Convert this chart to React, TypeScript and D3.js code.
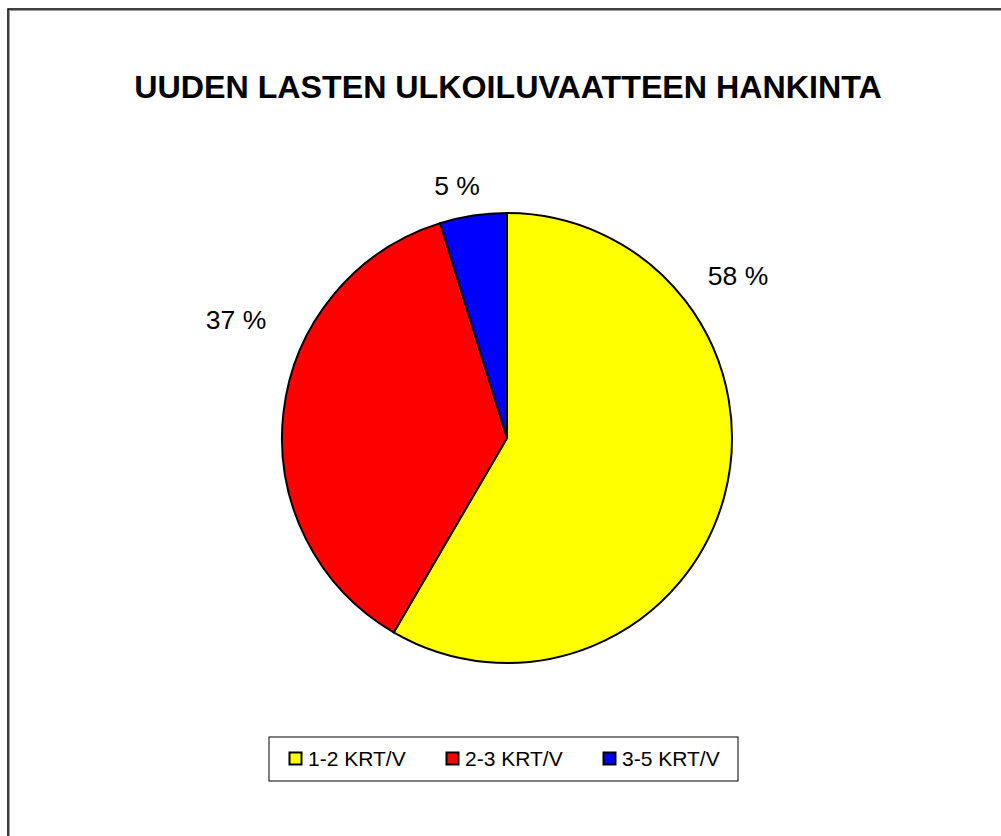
import React from "react";
import * as d3 from "d3";

const categories = ["1-2 KRT/V", "2-3 KRT/V", "3-5 KRT/V"];
const values = [58.4, 36.8, 4.8];
const colors = ["#FFFF00", "#FF0000", "#0000FF"];
const title = "UUDEN LASTEN ULKOILUVAATTEEN HANKINTA";

// label anchor offsets relative to pie centre (layout only)
const labelOffsets: [number, number][] = [
  [231, -153],
  [-271, -109],
  [-50, -243],
];

const W = 1001;
const H = 836;
const cx = 507;
const cy = 438;
const R = 225;

export default function App() {
  const pie = d3.pie<number>().sort(null).value((d) => d)(values);
  const arc = d3.arc<d3.PieArcDatum<number>>().innerRadius(0).outerRadius(R);
  const font = "Liberation Sans, Arial, sans-serif";

  const legendX = 269;
  const legendY = 737;
  const legendW = 469;
  const legendH = 44;
  const itemX = [289, 446, 603];

  return (
    <div style={{ position: "absolute", left: 0, top: 0 }}>
      <svg width={W} height={H} style={{ display: "block" }}>
        <rect x={0} y={0} width={W} height={H} fill="#fff" />
        {/* frame */}
        <rect x={9.5} y={10.5} width={W + 10} height={H + 10} fill="none" stroke="#999" strokeWidth={1} />
        <rect x={8} y={9} width={W + 10} height={H + 10} fill="none" stroke="#000" strokeWidth={1.5} />
        <text
          x={508}
          y={98}
          textAnchor="middle"
          fontFamily={font}
          fontWeight="bold"
          fontSize={32.2}
          fill="#000"
        >
          {title}
        </text>
        <g transform={`translate(${cx},${cy})`}>
          {pie.map((d, i) => (
            <path
              key={i}
              d={arc(d) || ""}
              fill={colors[i]}
              stroke="#000"
              strokeWidth={2}
              strokeLinejoin="round"
            />
          ))}
          {pie.map((d, i) => (
            <text
              key={"l" + i}
              x={labelOffsets[i][0]}
              y={labelOffsets[i][1]}
              textAnchor="middle"
              fontFamily={font}
              fontSize={26.5}
              fill="#000"
            >
              {`${Math.round(d.value)} %`}
            </text>
          ))}
        </g>
        <rect
          x={legendX}
          y={legendY}
          width={legendW}
          height={legendH}
          fill="#fff"
          stroke="#000"
          strokeWidth={1}
        />
        {categories.map((c, i) => (
          <g key={"lg" + i}>
            <rect
              x={itemX[i] + 0.5}
              y={752.5}
              width={12}
              height={12}
              fill={colors[i]}
              stroke="#000"
              strokeWidth={2}
            />
            <text
              x={itemX[i] + 19}
              y={766}
              fontFamily={font}
              fontSize={21}
              fill="#000"
            >
              {c}
            </text>
          </g>
        ))}
      </svg>
    </div>
  );
}
